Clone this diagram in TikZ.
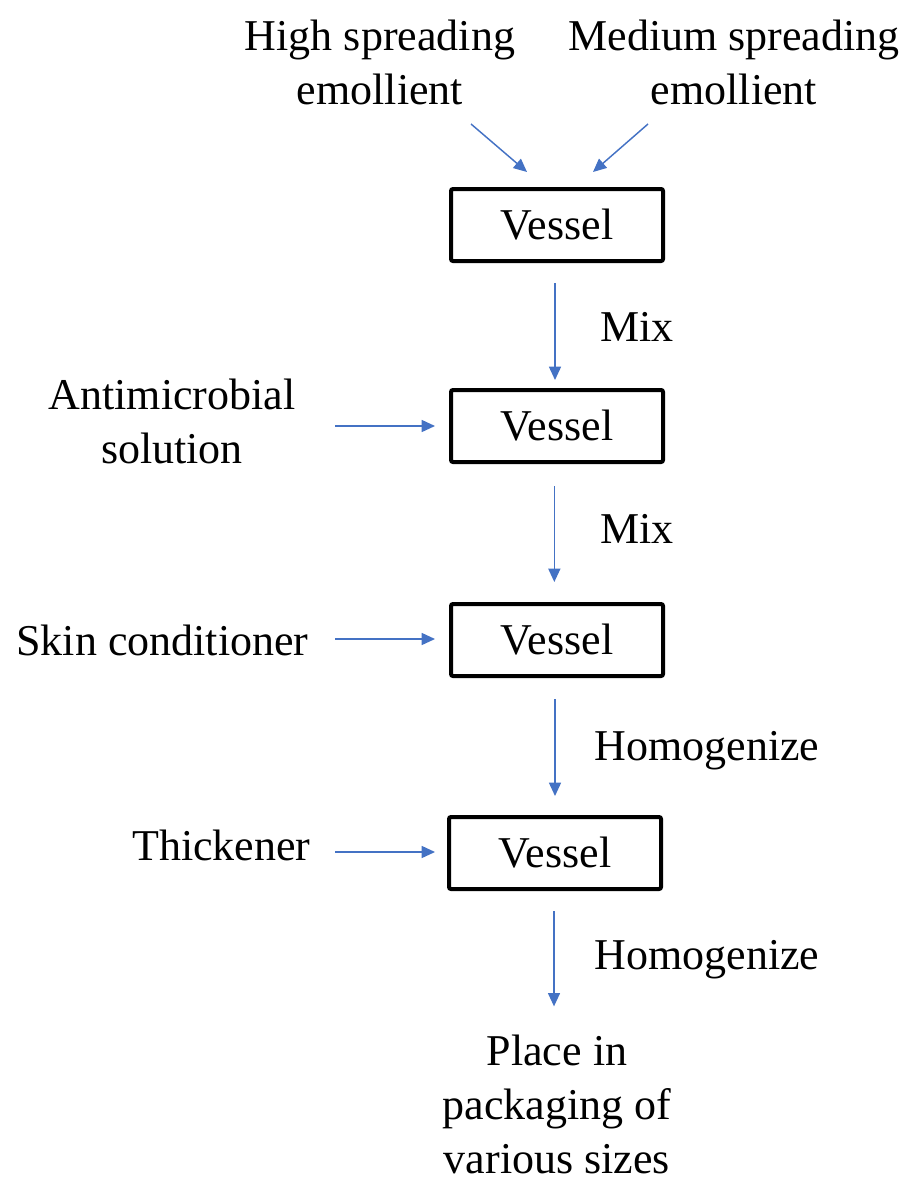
\documentclass[tikz,border=0pt]{standalone}
\usepackage{fontspec}
\setmainfont{Liberation Serif}
\newfontfamily\labelfont{Liberation Serif}
\usetikzlibrary{arrows.meta}
\definecolor{flowblue}{RGB}{68,114,196}
\tikzset{every picture/.style={line width=0.75pt}}
\tikzset{
  vessel/.style={draw, line width=3pt, rounded corners=1.5pt, minimum width=159pt, minimum height=54pt, inner sep=0.75pt},
  flow/.style={draw=flowblue, line width=1.1pt, -{Triangle[length=10pt,width=9pt]}},
  lbl/.style={inner sep=0.75pt, align=center}
}

\begin{document}
\begin{tikzpicture}[x=0.75pt,y=0.75pt,yscale=-1,xscale=1,font=\labelfont\fontsize{33}{40.5}\selectfont]
\useasboundingbox (0,0) rectangle (915,1181);

% Vessels
\draw (557,225) node [vessel] (v1) {Vessel};
\draw (557,426) node [vessel] (v2) {Vessel};
\draw (557,640) node [vessel] (v3) {Vessel};
\draw (555,853) node [vessel] (v4) {Vessel};

% Text Node
\draw (380,62) node [lbl] (high) {High spreading\\emollient};
% Text Node
\draw (734,62) node [lbl] (medium) {Medium spreading\\emollient};
% Text Node
\draw (172,421) node [lbl] (anti) {Antimicrobial\\solution};
% Text Node
\draw (310,655) node [lbl, anchor=base east] (skin) {Skin conditioner};
% Text Node
\draw (312,860) node [lbl, anchor=base east] (thick) {Thickener};
% Text Node
\draw (557,1104) node [lbl] (place) {Place in\\packaging of\\various sizes};
% Text Node
\draw (599,341) node [lbl, anchor=base west] (mix1) {Mix};
\draw (599,543) node [lbl, anchor=base west] (mix2) {Mix};
\draw (593,760) node [lbl, anchor=base west] (homo1) {Homogenize};
\draw (593,969) node [lbl, anchor=base west] (homo2) {Homogenize};

% Arrow ends
\coordinate (h1) at (471,124);
\coordinate (h2) at (527,172);
\coordinate (m1) at (648,124);
\coordinate (m2) at (593,172);
\coordinate (a1) at (335,426);
\coordinate (s1) at (335,639);
\coordinate (t1) at (335,852);

% Inputs
\draw [flow] (h1) -- (h2);
\draw [flow] (m1) -- (m2);
\draw [flow, shorten >=10.5pt] (a1) -- (v2.west);
\draw [flow, shorten >=10.5pt] (s1) -- (v3.west |- s1);
\draw [flow, shorten >=9pt] (t1) -- (v4.west |- t1);

% Steps
\draw [flow, shorten <=15pt, shorten >=6pt] ([xshift=-1.5pt]v1.south) -- ([xshift=-1.5pt]v2.north);
\draw [flow, shorten <=16.5pt, shorten >=15pt] ([xshift=-2pt]v2.south) -- ([xshift=-2pt]v3.north);
\draw [flow, shorten <=15.75pt, shorten >=14.25pt] ([xshift=-1.5pt]v3.south) -- ([xshift=-1.5pt]v3.south |- v4.north);
\draw [flow, shorten <=15pt, shorten >=20pt] ([xshift=-0.75pt]v4.south) -- ([xshift=-0.75pt]v4.south |- place.north);

\end{tikzpicture}
\end{document}
